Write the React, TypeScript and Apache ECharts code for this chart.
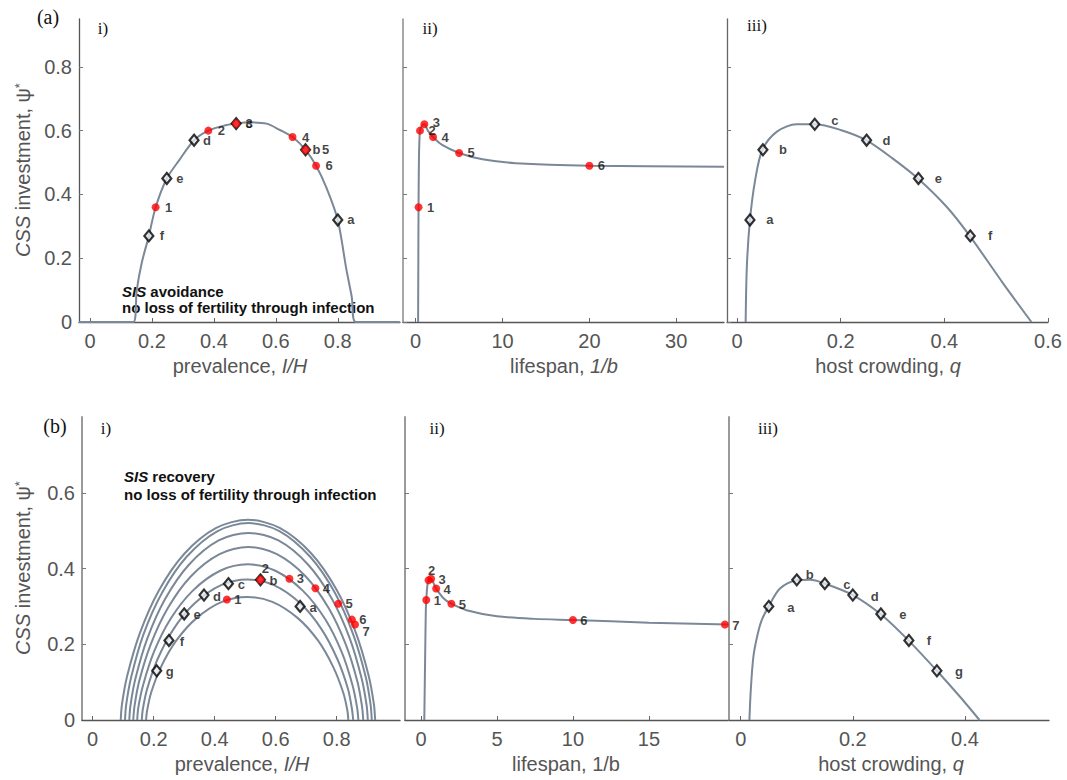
import React, { useEffect, useRef } from 'react';
import * as echarts from 'echarts';

// ---------- DATA ----------
// (a) i) prevalence
const aPrevCurve: number[][] = [[-0.035, 0], [0.14, 0], [0.151, 0.10], [0.167, 0.185], [0.19, 0.27], [0.212, 0.36], [0.248, 0.45], [0.29, 0.51], [0.336, 0.57], [0.382, 0.60], [0.43, 0.615], [0.472, 0.622], [0.517, 0.626], [0.57, 0.622], [0.613, 0.602], [0.654, 0.58], [0.696, 0.54], [0.73, 0.49], [0.764, 0.42], [0.80, 0.32], [0.828, 0.164], [0.845, 0.08], [0.858, 0], [1.0, 0]];
const aPrevDiamonds: number[][] = [[0.80, 0.32], [0.696, 0.54], [0.472, 0.622], [0.336, 0.57], [0.248, 0.45], [0.19, 0.27]];
const aPrevDiamondNames = ['a', 'b', 'c', 'd', 'e', 'f'];
const aPrevRed: number[][] = [[0.212, 0.36], [0.382, 0.60], [0.472, 0.622], [0.654, 0.58], [0.696, 0.54], [0.73, 0.49]];
const aPrevRedNames = ['1', '2', '3', '4', '5', '6'];

// (a) ii) lifespan
const aLifeCurve: number[][] = [[0.28, 0], [0.3, 0.15], [0.33, 0.36], [0.38, 0.52], [0.45, 0.585], [0.5, 0.60], [0.7, 0.615], [1.0, 0.62], [1.4, 0.60], [2, 0.58], [3, 0.556], [5, 0.53], [7.7, 0.51], [11.5, 0.498], [20, 0.49], [35.5, 0.487]];
const aLifeRed: number[][] = [[0.33, 0.36], [0.5, 0.60], [1, 0.62], [2, 0.58], [5, 0.53], [20, 0.49]];
const aLifeRedNames = ['1', '2', '3', '4', '5', '6'];

// (a) iii) host crowding
const aCrowdCurve: number[][] = [[0.0167, 0], [0.019, 0.174], [0.025, 0.32], [0.035, 0.445], [0.049, 0.54], [0.077, 0.597], [0.115, 0.62], [0.15, 0.62], [0.2, 0.602], [0.249, 0.57], [0.30, 0.513], [0.349, 0.45], [0.404, 0.362], [0.449, 0.27], [0.513, 0.122], [0.568, 0]];
const aCrowdDiamonds: number[][] = [[0.025, 0.32], [0.05, 0.54], [0.15, 0.62], [0.25, 0.57], [0.35, 0.45], [0.45, 0.27]];
const aCrowdDiamondNames = ['a', 'b', 'c', 'd', 'e', 'f'];

// (b) i) prevalence, family of curves
const bPrevCurve1: number[][] = [[0.092, 0], [0.096, 0.041], [0.113, 0.116], [0.155, 0.230], [0.217, 0.342], [0.3005, 0.439], [0.405, 0.507], [0.509, 0.529], [0.613, 0.507], [0.7175, 0.439], [0.801, 0.342], [0.863, 0.230], [0.905, 0.116], [0.922, 0.041], [0.926, 0]];
const bPrevCurve2: number[][] = [[0.106, 0], [0.110, 0.041], [0.1265, 0.114], [0.1665, 0.226], [0.2275, 0.336], [0.308, 0.431], [0.4095, 0.499], [0.5105, 0.520], [0.612, 0.499], [0.713, 0.431], [0.794, 0.336], [0.854, 0.226], [0.895, 0.114], [0.911, 0.041], [0.915, 0]];
const bPrevCurve3: number[][] = [[0.120, 0], [0.124, 0.039], [0.140, 0.109], [0.179, 0.215], [0.237, 0.319], [0.3155, 0.410], [0.413, 0.474], [0.511, 0.494], [0.609, 0.474], [0.7065, 0.410], [0.785, 0.319], [0.843, 0.215], [0.882, 0.109], [0.898, 0.039], [0.902, 0]];
const bPrevCurve4: number[][] = [[0.133, 0], [0.137, 0.036], [0.152, 0.101], [0.190, 0.199], [0.246, 0.295], [0.3215, 0.379], [0.416, 0.438], [0.510, 0.457], [0.604, 0.438], [0.6985, 0.379], [0.774, 0.295], [0.830, 0.199], [0.868, 0.101], [0.883, 0.036], [0.887, 0]];
const bPrevCurve5: number[][] = [[0.146, 0], [0.1495, 0.032], [0.1645, 0.090], [0.2005, 0.179], [0.2545, 0.266], [0.3275, 0.341], [0.418, 0.394], [0.5085, 0.411], [0.599, 0.394], [0.6895, 0.341], [0.7625, 0.266], [0.8165, 0.179], [0.8525, 0.090], [0.867, 0.032], [0.871, 0]];
const bPrevCurve6: number[][] = [[0.161, 0], [0.1645, 0.029], [0.1785, 0.082], [0.213, 0.161], [0.265, 0.240], [0.3345, 0.308], [0.421, 0.356], [0.5075, 0.371], [0.594, 0.356], [0.6805, 0.308], [0.750, 0.240], [0.802, 0.161], [0.837, 0.082], [0.850, 0.029], [0.854, 0]];
const bPrevCurve7: number[][] = [[0.175, 0], [0.1785, 0.025], [0.1915, 0.072], [0.2245, 0.141], [0.2745, 0.210], [0.3405, 0.269], [0.4235, 0.312], [0.5065, 0.325], [0.589, 0.312], [0.6725, 0.269], [0.7385, 0.210], [0.788, 0.141], [0.8215, 0.072], [0.835, 0.025], [0.838, 0]];
const bPrevDiamonds: number[][] = [[0.68, 0.30], [0.55, 0.37], [0.445, 0.36], [0.365, 0.33], [0.30, 0.28], [0.25, 0.21], [0.21, 0.13]];
const bPrevDiamondNames = ['a', 'b', 'c', 'd', 'e', 'f', 'g'];
const bPrevRed: number[][] = [[0.44, 0.318], [0.55, 0.37], [0.645, 0.373], [0.73, 0.348], [0.805, 0.307], [0.85, 0.265], [0.86, 0.252]];
const bPrevRedNames = ['1', '2', '3', '4', '5', '6', '7'];

// (b) ii) lifespan
const bLifeCurve: number[][] = [[0.22, 0], [0.27, 0.15], [0.32, 0.29], [0.35, 0.317], [0.42, 0.355], [0.5, 0.369], [0.67, 0.373], [0.82, 0.362], [1, 0.347], [1.5, 0.321], [2, 0.307], [3, 0.29], [5, 0.274], [7.5, 0.267], [10, 0.264], [15, 0.257], [20.2, 0.252]];
const bLifeRed: number[][] = [[0.35, 0.317], [0.5, 0.369], [0.67, 0.373], [1, 0.347], [2, 0.307], [10, 0.264], [20, 0.252]];
const bLifeRedNames = ['1', '2', '3', '4', '5', '6', '7'];

// (b) iii) host crowding
const bCrowdCurve: number[][] = [[0.0155, 0], [0.018, 0.08], [0.0226, 0.167], [0.03, 0.225], [0.0375, 0.264], [0.05, 0.30], [0.07, 0.347], [0.1, 0.369], [0.124, 0.37], [0.15, 0.36], [0.2, 0.33], [0.25, 0.279], [0.3, 0.209], [0.35, 0.13], [0.392, 0.06], [0.426, 0]];
const bCrowdDiamonds: number[][] = [[0.05, 0.30], [0.1, 0.37], [0.15, 0.36], [0.2, 0.33], [0.25, 0.28], [0.3, 0.21], [0.35, 0.13]];
const bCrowdDiamondNames = ['a', 'b', 'c', 'd', 'e', 'f', 'g'];

// tick labels
const prevTicks = [0, 0.2, 0.4, 0.6, 0.8];
const aLifeTicks = [0, 10, 20, 30];
const aCrowdTicks = [0, 0.2, 0.4, 0.6];
const bLifeTicks = [0, 5, 10, 15];
const bCrowdTicks = [0, 0.2, 0.4];
const aYTicks = [0, 0.2, 0.4, 0.6, 0.8];
const bYLabels = [0, 0.2, 0.4, 0.6];
const bYTicks = [0.2, 0.4, 0.6];

// ---------- STYLE ----------
const SANS = "'Liberation Sans', Arial, Helvetica, sans-serif";
const SERIF = "'Liberation Serif', 'Times New Roman', serif";
const CURVE = '#7b8898';
const GREY_TXT = '#555555';

type Off = Record<string, number[]>;

function xAxisDef(gridIndex: number, min: number, max: number, ticks: number[]) {
  return {
    type: 'value', gridIndex, min, max,
    axisLine: { show: true, onZero: false, lineStyle: { color: '#555', width: 1.3 } },
    axisTick: { show: true, inside: true, length: 4, customValues: ticks, lineStyle: { color: '#666', width: 1 } },
    axisLabel: { show: true, customValues: ticks, margin: 9, fontSize: 20, color: GREY_TXT, fontFamily: SANS, formatter: (v: number) => String(v) },
    splitLine: { show: false },
  };
}

function yAxisDef(gridIndex: number, max: number, ticks: number[], labels: number[] | null, color: string, width: number) {
  return {
    type: 'value', gridIndex, min: 0, max,
    axisLine: { show: true, onZero: false, lineStyle: { color, width } },
    axisTick: { show: true, inside: true, length: 4, customValues: ticks, lineStyle: { color: '#777', width: 1 } },
    axisLabel: labels ? { show: true, customValues: labels, margin: 7, fontSize: 20, color: GREY_TXT, fontFamily: SANS, formatter: (v: number) => String(v) } : { show: false },
    splitLine: { show: false },
  };
}

function lineSeries(idx: number, data: number[][]) {
  return {
    type: 'line', xAxisIndex: idx, yAxisIndex: idx, data, smooth: 0.3, symbol: 'none', showSymbol: false,
    lineStyle: { color: CURVE, width: 2 }, z: 2, silent: true,
  };
}

function labelled(vals: number[][], names: string[], def: number[], offs: Off) {
  return vals.map((v, i) => ({ value: v, name: names[i], label: { offset: offs[names[i]] || def } }));
}

const ptLabel = { show: true, position: 'inside', formatter: '{b}', fontSize: 13, fontWeight: 'bold', color: '#111', fontFamily: SANS };

function diamondSeries(idx: number, vals: number[][], names: string[], def: number[], offs: Off) {
  return {
    type: 'scatter', xAxisIndex: idx, yAxisIndex: idx, clip: false, z: 3,
    symbol: 'diamond', symbolSize: [9, 11],
    itemStyle: { color: '#e6eaef', borderColor: '#000', borderWidth: 2.2 },
    label: ptLabel,
    data: labelled(vals, names, def, offs),
  };
}

function redSeries(idx: number, vals: number[][], names: string[], def: number[], offs: Off) {
  return {
    type: 'scatter', xAxisIndex: idx, yAxisIndex: idx, clip: false, z: 4,
    symbol: 'circle', symbolSize: 8,
    itemStyle: { color: '#ff0000' },
    label: ptLabel,
    data: labelled(vals, names, def, offs),
  };
}

function txt(x: number, y: number, text: string, extra: any = {}) {
  return {
    type: 'text', x, y, silent: true,
    style: Object.assign({ text, fontSize: 20, fill: GREY_TXT, fontFamily: SANS, align: 'center', verticalAlign: 'middle' }, extra),
  };
}

const italicRich = (size: number, color: string, weight = 'normal') => ({
  i: { fontStyle: 'italic', fontSize: size, fill: color, fontFamily: SANS, fontWeight: weight },
  s: { fontSize: 13, fill: color, fontFamily: SANS, verticalAlign: 'top', padding: [0, 0, 8, 0] },
});

function buildOption() {
  const grids = [
    { left: 79, top: 19, width: 321, height: 303 },
    { left: 403, top: 19, width: 321, height: 303 },
    { left: 727, top: 19, width: 321, height: 303 },
    { left: 82, top: 417, width: 318, height: 303 },
    { left: 405, top: 417, width: 323, height: 303 },
    { left: 729, top: 417, width: 320, height: 303 },
  ];
  const xAxis = [
    xAxisDef(0, -0.0355, 1.001, prevTicks),
    xAxisDef(1, -1.46, 35.5, aLifeTicks),
    xAxisDef(2, -0.0193, 0.6, aCrowdTicks),
    xAxisDef(3, -0.035, 1.0075, prevTicks),
    xAxisDef(4, -1.05, 20.2, bLifeTicks),
    xAxisDef(5, -0.0209, 0.55, bCrowdTicks),
  ];
  const yAxis = [
    yAxisDef(0, 0.95, aYTicks, aYTicks, '#555', 1.3),
    yAxisDef(1, 0.95, aYTicks, null, '#8a8a8a', 1.5),
    yAxisDef(2, 0.95, aYTicks, null, '#666', 1.3),
    yAxisDef(3, 0.8, bYTicks, bYLabels, '#9a9a9a', 2),
    yAxisDef(4, 0.8, bYTicks, null, '#9a9a9a', 2),
    yAxisDef(5, 0.8, bYTicks, null, '#9a9a9a', 2),
  ];

  const series: any[] = [
    lineSeries(0, aPrevCurve),
    diamondSeries(0, aPrevDiamonds, aPrevDiamondNames, [13, 0], { b: [11, 0] }),
    redSeries(0, aPrevRed, aPrevRedNames, [13, 0], { '5': [20, 0] }),

    lineSeries(1, aLifeCurve),
    redSeries(1, aLifeRed, aLifeRedNames, [12, 0], { '3': [12, -1.5] }),

    lineSeries(2, aCrowdCurve),
    diamondSeries(2, aCrowdDiamonds, aCrowdDiamondNames, [20, 0], { c: [20, -4] }),

    lineSeries(3, bPrevCurve1),
    lineSeries(3, bPrevCurve2),
    lineSeries(3, bPrevCurve3),
    lineSeries(3, bPrevCurve4),
    lineSeries(3, bPrevCurve5),
    lineSeries(3, bPrevCurve6),
    lineSeries(3, bPrevCurve7),
    diamondSeries(3, bPrevDiamonds, bPrevDiamondNames, [13, 1], {}),
    redSeries(3, bPrevRed, bPrevRedNames, [11, 0], { '2': [5, -11], '7': [11, 6.5] }),

    lineSeries(4, bLifeCurve),
    redSeries(4, bLifeRed, bLifeRedNames, [11, 0.5], { '2': [3, -10] }),

    lineSeries(5, bCrowdCurve),
    diamondSeries(5, bCrowdDiamonds, bCrowdDiamondNames, [22, 1], { b: [13, -5], f: [20, 0] }),
  ];

  const yName = '{i|CSS} investment, ψ{s|*}';
  const graphic: any[] = [
    // panel tags
    txt(48, 17, '(a)', { fontFamily: SERIF, fill: '#111', fontSize: 20 }),
    txt(103, 28, 'i)', { fontFamily: SERIF, fill: '#111', fontSize: 17 }),
    txt(430, 28, 'ii)', { fontFamily: SERIF, fill: '#111', fontSize: 17 }),
    txt(757, 25, 'iii)', { fontFamily: SERIF, fill: '#111', fontSize: 17 }),
    txt(55, 426, '(b)', { fontFamily: SERIF, fill: '#111', fontSize: 20 }),
    txt(106, 428, 'i)', { fontFamily: SERIF, fill: '#111', fontSize: 17 }),
    txt(437, 428, 'ii)', { fontFamily: SERIF, fill: '#111', fontSize: 17 }),
    txt(768, 428, 'iii)', { fontFamily: SERIF, fill: '#111', fontSize: 17 }),
    // annotations
    txt(122, 291, '{i|SIS} avoidance', { align: 'left', fontSize: 15, fontWeight: 'bold', fill: '#111', rich: italicRich(15, '#111', 'bold') }),
    txt(122, 307, 'no loss of fertility through infection', { align: 'left', fontSize: 15, fontWeight: 'bold', fill: '#111' }),
    txt(124, 476, '{i|SIS} recovery', { align: 'left', fontSize: 15, fontWeight: 'bold', fill: '#111', rich: italicRich(15, '#111', 'bold') }),
    txt(124, 494, 'no loss of fertility through infection', { align: 'left', fontSize: 15, fontWeight: 'bold', fill: '#111' }),
    // axis names
    txt(240, 366, 'prevalence, {i|I/H}', { rich: italicRich(20, GREY_TXT) }),
    txt(564, 366, 'lifespan, {i|1/b}', { rich: italicRich(20, GREY_TXT) }),
    txt(888, 366, 'host crowding, {i|q}', { rich: italicRich(20, GREY_TXT) }),
    txt(242, 764, 'prevalence, {i|I/H}', { rich: italicRich(20, GREY_TXT) }),
    txt(566, 764, 'lifespan, 1/b'),
    txt(891, 764, 'host crowding, {i|q}', { rich: italicRich(20, GREY_TXT) }),
    Object.assign(txt(23, 170, yName, { rich: italicRich(20, GREY_TXT) }), { rotation: Math.PI / 2 }),
    Object.assign(txt(23, 568, yName, { rich: italicRich(20, GREY_TXT) }), { rotation: Math.PI / 2 }),
  ];

  return { animation: false, backgroundColor: '#ffffff', grid: grids, xAxis, yAxis, series, graphic };
}

export default function App() {
  const ref = useRef<HTMLDivElement>(null);
  useEffect(() => {
    if (!ref.current) return;
    const chart = echarts.init(ref.current, null, { renderer: 'svg' });
    chart.setOption(buildOption() as any);
    return () => chart.dispose();
  }, []);
  return <div ref={ref} style={{ position: 'absolute', left: 0, top: 0, width: 1067, height: 780, background: '#fff' }} />;
}
